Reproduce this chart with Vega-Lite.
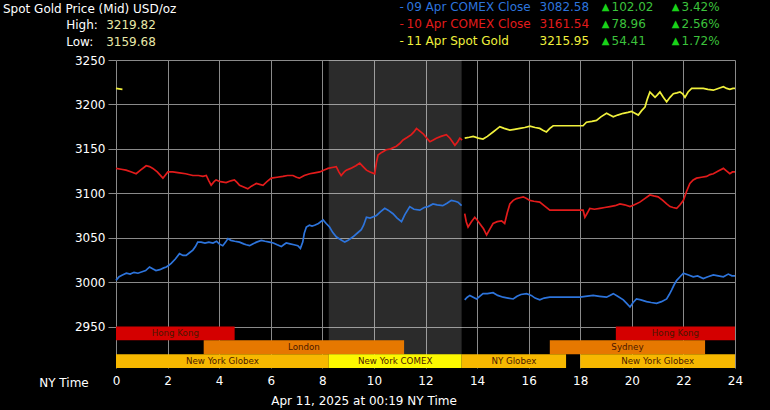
{
"$schema":"https://vega.github.io/schema/vega-lite/v6.json",
"autosize":{"type":"none"},
"width":619,"height":308,
"padding":{"left":116,"top":60,"right":35,"bottom":42},
"background":"#000000",
"config":{"view":{"stroke":null},"font":"DejaVu Sans","text":{"font":"DejaVu Sans"},
 "axisX":{"grid":true,"gridColor":"#8a8a8a","gridWidth":1,"domain":false,"ticks":false,"labelPadding":7,"labelFlush":false,"labelColor":"#ffffff","labelFontSize":12,"labelFont":"DejaVu Sans","titleX":247.5,"titleY":32,"titleAlign":"center","titleBaseline":"middle","titleColor":"#ffffff","titleFontSize":12,"titleFontWeight":"normal","titleFont":"DejaVu Sans"}},
"title":{"text":"Spot Gold Price (Mid) USD/oz","anchor":"start","frame":"group","color":"#ffffff","fontSize":12,"fontWeight":"normal","font":"DejaVu Sans","dx":-113,"offset":0,"baseline":"bottom","dy":27},
"datasets":{
"prices":[
{"series":"09 Apr COMEX Close","segment":"before","hour":0.00,"price":3002},{"series":"09 Apr COMEX Close","segment":"before","hour":0.12,"price":3006},{"series":"09 Apr COMEX Close","segment":"before","hour":0.25,"price":3008},{"series":"09 Apr COMEX Close","segment":"before","hour":0.40,"price":3010},{"series":"09 Apr COMEX Close","segment":"before","hour":0.55,"price":3009},{"series":"09 Apr COMEX Close","segment":"before","hour":0.70,"price":3011},{"series":"09 Apr COMEX Close","segment":"before","hour":0.85,"price":3010},{"series":"09 Apr COMEX Close","segment":"before","hour":1.04,"price":3012},{"series":"09 Apr COMEX Close","segment":"before","hour":1.15,"price":3013},{"series":"09 Apr COMEX Close","segment":"before","hour":1.30,"price":3017},{"series":"09 Apr COMEX Close","segment":"before","hour":1.42,"price":3015},{"series":"09 Apr COMEX Close","segment":"before","hour":1.55,"price":3013},{"series":"09 Apr COMEX Close","segment":"before","hour":1.70,"price":3014},{"series":"09 Apr COMEX Close","segment":"before","hour":1.85,"price":3016},{"series":"09 Apr COMEX Close","segment":"before","hour":1.95,"price":3017},{"series":"09 Apr COMEX Close","segment":"before","hour":2.05,"price":3019},{"series":"09 Apr COMEX Close","segment":"before","hour":2.14,"price":3021},{"series":"09 Apr COMEX Close","segment":"before","hour":2.30,"price":3026},{"series":"09 Apr COMEX Close","segment":"before","hour":2.46,"price":3032},{"series":"09 Apr COMEX Close","segment":"before","hour":2.60,"price":3030},{"series":"09 Apr COMEX Close","segment":"before","hour":2.72,"price":3030},{"series":"09 Apr COMEX Close","segment":"before","hour":2.85,"price":3033},{"series":"09 Apr COMEX Close","segment":"before","hour":2.98,"price":3036},{"series":"09 Apr COMEX Close","segment":"before","hour":3.08,"price":3040},{"series":"09 Apr COMEX Close","segment":"before","hour":3.17,"price":3045},{"series":"09 Apr COMEX Close","segment":"before","hour":3.30,"price":3045},{"series":"09 Apr COMEX Close","segment":"before","hour":3.45,"price":3044},{"series":"09 Apr COMEX Close","segment":"before","hour":3.60,"price":3045},{"series":"09 Apr COMEX Close","segment":"before","hour":3.76,"price":3044},{"series":"09 Apr COMEX Close","segment":"before","hour":3.90,"price":3046},{"series":"09 Apr COMEX Close","segment":"before","hour":4.00,"price":3043},{"series":"09 Apr COMEX Close","segment":"before","hour":4.14,"price":3041},{"series":"09 Apr COMEX Close","segment":"before","hour":4.25,"price":3045},{"series":"09 Apr COMEX Close","segment":"before","hour":4.34,"price":3049},{"series":"09 Apr COMEX Close","segment":"before","hour":4.45,"price":3047},{"series":"09 Apr COMEX Close","segment":"before","hour":4.60,"price":3046},{"series":"09 Apr COMEX Close","segment":"before","hour":4.79,"price":3045},{"series":"09 Apr COMEX Close","segment":"before","hour":4.95,"price":3043},{"series":"09 Apr COMEX Close","segment":"before","hour":5.05,"price":3042},{"series":"09 Apr COMEX Close","segment":"before","hour":5.18,"price":3041},{"series":"09 Apr COMEX Close","segment":"before","hour":5.30,"price":3043},{"series":"09 Apr COMEX Close","segment":"before","hour":5.45,"price":3045},{"series":"09 Apr COMEX Close","segment":"before","hour":5.63,"price":3047},{"series":"09 Apr COMEX Close","segment":"before","hour":5.78,"price":3046},{"series":"09 Apr COMEX Close","segment":"before","hour":5.95,"price":3045},{"series":"09 Apr COMEX Close","segment":"before","hour":6.10,"price":3044},{"series":"09 Apr COMEX Close","segment":"before","hour":6.25,"price":3042},{"series":"09 Apr COMEX Close","segment":"before","hour":6.41,"price":3040},{"series":"09 Apr COMEX Close","segment":"before","hour":6.50,"price":3042},{"series":"09 Apr COMEX Close","segment":"before","hour":6.60,"price":3044},{"series":"09 Apr COMEX Close","segment":"before","hour":6.75,"price":3043},{"series":"09 Apr COMEX Close","segment":"before","hour":6.90,"price":3042},{"series":"09 Apr COMEX Close","segment":"before","hour":7.05,"price":3041},{"series":"09 Apr COMEX Close","segment":"before","hour":7.15,"price":3038},{"series":"09 Apr COMEX Close","segment":"before","hour":7.24,"price":3045},{"series":"09 Apr COMEX Close","segment":"before","hour":7.30,"price":3055},{"series":"09 Apr COMEX Close","segment":"before","hour":7.38,"price":3062},{"series":"09 Apr COMEX Close","segment":"before","hour":7.50,"price":3064},{"series":"09 Apr COMEX Close","segment":"before","hour":7.60,"price":3063},{"series":"09 Apr COMEX Close","segment":"before","hour":7.70,"price":3064},{"series":"09 Apr COMEX Close","segment":"before","hour":7.85,"price":3066},{"series":"09 Apr COMEX Close","segment":"before","hour":8.03,"price":3070},{"series":"09 Apr COMEX Close","segment":"before","hour":8.15,"price":3066},{"series":"09 Apr COMEX Close","segment":"before","hour":8.28,"price":3062},{"series":"09 Apr COMEX Close","segment":"before","hour":8.40,"price":3056},{"series":"09 Apr COMEX Close","segment":"before","hour":8.54,"price":3051},{"series":"09 Apr COMEX Close","segment":"before","hour":8.70,"price":3048},{"series":"09 Apr COMEX Close","segment":"before","hour":8.87,"price":3045},{"series":"09 Apr COMEX Close","segment":"before","hour":9.00,"price":3047},{"series":"09 Apr COMEX Close","segment":"before","hour":9.19,"price":3051},{"series":"09 Apr COMEX Close","segment":"before","hour":9.35,"price":3055},{"series":"09 Apr COMEX Close","segment":"before","hour":9.51,"price":3059},{"series":"09 Apr COMEX Close","segment":"before","hour":9.60,"price":3064},{"series":"09 Apr COMEX Close","segment":"before","hour":9.71,"price":3073},{"series":"09 Apr COMEX Close","segment":"before","hour":9.85,"price":3072},{"series":"09 Apr COMEX Close","segment":"before","hour":10.10,"price":3075},{"series":"09 Apr COMEX Close","segment":"before","hour":10.25,"price":3079},{"series":"09 Apr COMEX Close","segment":"before","hour":10.42,"price":3083},{"series":"09 Apr COMEX Close","segment":"before","hour":10.55,"price":3081},{"series":"09 Apr COMEX Close","segment":"before","hour":10.74,"price":3077},{"series":"09 Apr COMEX Close","segment":"before","hour":10.90,"price":3072},{"series":"09 Apr COMEX Close","segment":"before","hour":11.07,"price":3068},{"series":"09 Apr COMEX Close","segment":"before","hour":11.20,"price":3076},{"series":"09 Apr COMEX Close","segment":"before","hour":11.39,"price":3085},{"series":"09 Apr COMEX Close","segment":"before","hour":11.55,"price":3082},{"series":"09 Apr COMEX Close","segment":"before","hour":11.78,"price":3081},{"series":"09 Apr COMEX Close","segment":"before","hour":11.95,"price":3084},{"series":"09 Apr COMEX Close","segment":"before","hour":12.10,"price":3085},{"series":"09 Apr COMEX Close","segment":"before","hour":12.29,"price":3088},{"series":"09 Apr COMEX Close","segment":"before","hour":12.45,"price":3087},{"series":"09 Apr COMEX Close","segment":"before","hour":12.67,"price":3086},{"series":"09 Apr COMEX Close","segment":"before","hour":12.85,"price":3089},{"series":"09 Apr COMEX Close","segment":"before","hour":13.00,"price":3092},{"series":"09 Apr COMEX Close","segment":"before","hour":13.15,"price":3091},{"series":"09 Apr COMEX Close","segment":"before","hour":13.26,"price":3090},{"series":"09 Apr COMEX Close","segment":"before","hour":13.40,"price":3086},
{"series":"09 Apr COMEX Close","segment":"after","hour":13.52,"price":2980},{"series":"09 Apr COMEX Close","segment":"after","hour":13.62,"price":2983},{"series":"09 Apr COMEX Close","segment":"after","hour":13.72,"price":2985},{"series":"09 Apr COMEX Close","segment":"after","hour":13.85,"price":2983},{"series":"09 Apr COMEX Close","segment":"after","hour":13.98,"price":2981},{"series":"09 Apr COMEX Close","segment":"after","hour":14.10,"price":2984},{"series":"09 Apr COMEX Close","segment":"after","hour":14.23,"price":2987},{"series":"09 Apr COMEX Close","segment":"after","hour":14.40,"price":2987},{"series":"09 Apr COMEX Close","segment":"after","hour":14.62,"price":2988},{"series":"09 Apr COMEX Close","segment":"after","hour":14.80,"price":2985},{"series":"09 Apr COMEX Close","segment":"after","hour":15.01,"price":2983},{"series":"09 Apr COMEX Close","segment":"after","hour":15.20,"price":2982},{"series":"09 Apr COMEX Close","segment":"after","hour":15.40,"price":2981},{"series":"09 Apr COMEX Close","segment":"after","hour":15.55,"price":2984},{"series":"09 Apr COMEX Close","segment":"after","hour":15.70,"price":2986},{"series":"09 Apr COMEX Close","segment":"after","hour":15.92,"price":2987},{"series":"09 Apr COMEX Close","segment":"after","hour":16.10,"price":2985},{"series":"09 Apr COMEX Close","segment":"after","hour":16.25,"price":2982},{"series":"09 Apr COMEX Close","segment":"after","hour":16.43,"price":2980},{"series":"09 Apr COMEX Close","segment":"after","hour":16.60,"price":2982},{"series":"09 Apr COMEX Close","segment":"after","hour":16.82,"price":2983},{"series":"09 Apr COMEX Close","segment":"after","hour":17.20,"price":2983},{"series":"09 Apr COMEX Close","segment":"after","hour":17.60,"price":2983},{"series":"09 Apr COMEX Close","segment":"after","hour":17.99,"price":2983},{"series":"09 Apr COMEX Close","segment":"after","hour":18.20,"price":2984},{"series":"09 Apr COMEX Close","segment":"after","hour":18.50,"price":2985},{"series":"09 Apr COMEX Close","segment":"after","hour":18.75,"price":2984},{"series":"09 Apr COMEX Close","segment":"after","hour":19.02,"price":2983},{"series":"09 Apr COMEX Close","segment":"after","hour":19.15,"price":2985},{"series":"09 Apr COMEX Close","segment":"after","hour":19.28,"price":2987},{"series":"09 Apr COMEX Close","segment":"after","hour":19.45,"price":2984},{"series":"09 Apr COMEX Close","segment":"after","hour":19.67,"price":2980},{"series":"09 Apr COMEX Close","segment":"after","hour":19.80,"price":2976},{"series":"09 Apr COMEX Close","segment":"after","hour":19.93,"price":2972},{"series":"09 Apr COMEX Close","segment":"after","hour":20.05,"price":2977},{"series":"09 Apr COMEX Close","segment":"after","hour":20.18,"price":2981},{"series":"09 Apr COMEX Close","segment":"after","hour":20.35,"price":2980},{"series":"09 Apr COMEX Close","segment":"after","hour":20.57,"price":2978},{"series":"09 Apr COMEX Close","segment":"after","hour":20.75,"price":2977},{"series":"09 Apr COMEX Close","segment":"after","hour":20.96,"price":2976},{"series":"09 Apr COMEX Close","segment":"after","hour":21.15,"price":2978},{"series":"09 Apr COMEX Close","segment":"after","hour":21.35,"price":2981},{"series":"09 Apr COMEX Close","segment":"after","hour":21.45,"price":2986},{"series":"09 Apr COMEX Close","segment":"after","hour":21.54,"price":2991},{"series":"09 Apr COMEX Close","segment":"after","hour":21.64,"price":2997},{"series":"09 Apr COMEX Close","segment":"after","hour":21.74,"price":3002},{"series":"09 Apr COMEX Close","segment":"after","hour":21.87,"price":3006},{"series":"09 Apr COMEX Close","segment":"after","hour":22.00,"price":3010},{"series":"09 Apr COMEX Close","segment":"after","hour":22.20,"price":3008},{"series":"09 Apr COMEX Close","segment":"after","hour":22.38,"price":3006},{"series":"09 Apr COMEX Close","segment":"after","hour":22.55,"price":3007},{"series":"09 Apr COMEX Close","segment":"after","hour":22.77,"price":3004},{"series":"09 Apr COMEX Close","segment":"after","hour":22.95,"price":3006},{"series":"09 Apr COMEX Close","segment":"after","hour":23.16,"price":3008},{"series":"09 Apr COMEX Close","segment":"after","hour":23.35,"price":3007},{"series":"09 Apr COMEX Close","segment":"after","hour":23.55,"price":3006},{"series":"09 Apr COMEX Close","segment":"after","hour":23.74,"price":3009},{"series":"09 Apr COMEX Close","segment":"after","hour":23.88,"price":3007},{"series":"09 Apr COMEX Close","segment":"after","hour":24.00,"price":3007},
{"series":"10 Apr COMEX Close","segment":"before","hour":0.00,"price":3128},{"series":"10 Apr COMEX Close","segment":"before","hour":0.20,"price":3127},{"series":"10 Apr COMEX Close","segment":"before","hour":0.39,"price":3126},{"series":"10 Apr COMEX Close","segment":"before","hour":0.60,"price":3124},{"series":"10 Apr COMEX Close","segment":"before","hour":0.78,"price":3122},{"series":"10 Apr COMEX Close","segment":"before","hour":0.95,"price":3126},{"series":"10 Apr COMEX Close","segment":"before","hour":1.17,"price":3131},{"series":"10 Apr COMEX Close","segment":"before","hour":1.30,"price":3130},{"series":"10 Apr COMEX Close","segment":"before","hour":1.43,"price":3128},{"series":"10 Apr COMEX Close","segment":"before","hour":1.60,"price":3124},{"series":"10 Apr COMEX Close","segment":"before","hour":1.82,"price":3117},{"series":"10 Apr COMEX Close","segment":"before","hour":2.01,"price":3124},{"series":"10 Apr COMEX Close","segment":"before","hour":2.20,"price":3124},{"series":"10 Apr COMEX Close","segment":"before","hour":2.46,"price":3123},{"series":"10 Apr COMEX Close","segment":"before","hour":2.70,"price":3122},{"series":"10 Apr COMEX Close","segment":"before","hour":2.98,"price":3120},{"series":"10 Apr COMEX Close","segment":"before","hour":3.20,"price":3120},{"series":"10 Apr COMEX Close","segment":"before","hour":3.37,"price":3119},{"series":"10 Apr COMEX Close","segment":"before","hour":3.50,"price":3120},{"series":"10 Apr COMEX Close","segment":"before","hour":3.60,"price":3114},{"series":"10 Apr COMEX Close","segment":"before","hour":3.69,"price":3109},{"series":"10 Apr COMEX Close","segment":"before","hour":3.80,"price":3113},{"series":"10 Apr COMEX Close","segment":"before","hour":3.88,"price":3115},{"series":"10 Apr COMEX Close","segment":"before","hour":4.05,"price":3113},{"series":"10 Apr COMEX Close","segment":"before","hour":4.27,"price":3112},{"series":"10 Apr COMEX Close","segment":"before","hour":4.45,"price":3114},{"series":"10 Apr COMEX Close","segment":"before","hour":4.59,"price":3115},{"series":"10 Apr COMEX Close","segment":"before","hour":4.70,"price":3112},{"series":"10 Apr COMEX Close","segment":"before","hour":4.79,"price":3109},{"series":"10 Apr COMEX Close","segment":"before","hour":4.95,"price":3107},{"series":"10 Apr COMEX Close","segment":"before","hour":5.11,"price":3105},{"series":"10 Apr COMEX Close","segment":"before","hour":5.25,"price":3108},{"series":"10 Apr COMEX Close","segment":"before","hour":5.44,"price":3111},{"series":"10 Apr COMEX Close","segment":"before","hour":5.57,"price":3110},{"series":"10 Apr COMEX Close","segment":"before","hour":5.70,"price":3109},{"series":"10 Apr COMEX Close","segment":"before","hour":5.85,"price":3113},{"series":"10 Apr COMEX Close","segment":"before","hour":6.02,"price":3117},{"series":"10 Apr COMEX Close","segment":"before","hour":6.25,"price":3118},{"series":"10 Apr COMEX Close","segment":"before","hour":6.47,"price":3119},{"series":"10 Apr COMEX Close","segment":"before","hour":6.65,"price":3120},{"series":"10 Apr COMEX Close","segment":"before","hour":6.86,"price":3120},{"series":"10 Apr COMEX Close","segment":"before","hour":7.00,"price":3118},{"series":"10 Apr COMEX Close","segment":"before","hour":7.11,"price":3117},{"series":"10 Apr COMEX Close","segment":"before","hour":7.30,"price":3120},{"series":"10 Apr COMEX Close","segment":"before","hour":7.51,"price":3122},{"series":"10 Apr COMEX Close","segment":"before","hour":7.70,"price":3123},{"series":"10 Apr COMEX Close","segment":"before","hour":7.90,"price":3124},{"series":"10 Apr COMEX Close","segment":"before","hour":8.05,"price":3126},{"series":"10 Apr COMEX Close","segment":"before","hour":8.22,"price":3128},{"series":"10 Apr COMEX Close","segment":"before","hour":8.38,"price":3129},{"series":"10 Apr COMEX Close","segment":"before","hour":8.54,"price":3130},{"series":"10 Apr COMEX Close","segment":"before","hour":8.64,"price":3124},{"series":"10 Apr COMEX Close","segment":"before","hour":8.73,"price":3120},{"series":"10 Apr COMEX Close","segment":"before","hour":8.85,"price":3124},{"series":"10 Apr COMEX Close","segment":"before","hour":8.93,"price":3126},{"series":"10 Apr COMEX Close","segment":"before","hour":9.10,"price":3128},{"series":"10 Apr COMEX Close","segment":"before","hour":9.30,"price":3131},{"series":"10 Apr COMEX Close","segment":"before","hour":9.45,"price":3134},{"series":"10 Apr COMEX Close","segment":"before","hour":9.58,"price":3130},{"series":"10 Apr COMEX Close","segment":"before","hour":9.71,"price":3126},{"series":"10 Apr COMEX Close","segment":"before","hour":9.85,"price":3124},{"series":"10 Apr COMEX Close","segment":"before","hour":10.03,"price":3122},{"series":"10 Apr COMEX Close","segment":"before","hour":10.10,"price":3135},{"series":"10 Apr COMEX Close","segment":"before","hour":10.16,"price":3143},{"series":"10 Apr COMEX Close","segment":"before","hour":10.30,"price":3146},{"series":"10 Apr COMEX Close","segment":"before","hour":10.48,"price":3149},{"series":"10 Apr COMEX Close","segment":"before","hour":10.65,"price":3150},{"series":"10 Apr COMEX Close","segment":"before","hour":10.87,"price":3153},{"series":"10 Apr COMEX Close","segment":"before","hour":11.00,"price":3156},{"series":"10 Apr COMEX Close","segment":"before","hour":11.13,"price":3160},{"series":"10 Apr COMEX Close","segment":"before","hour":11.30,"price":3163},{"series":"10 Apr COMEX Close","segment":"before","hour":11.45,"price":3166},{"series":"10 Apr COMEX Close","segment":"before","hour":11.55,"price":3169},{"series":"10 Apr COMEX Close","segment":"before","hour":11.65,"price":3173},{"series":"10 Apr COMEX Close","segment":"before","hour":11.78,"price":3170},{"series":"10 Apr COMEX Close","segment":"before","hour":11.91,"price":3167},{"series":"10 Apr COMEX Close","segment":"before","hour":12.05,"price":3162},{"series":"10 Apr COMEX Close","segment":"before","hour":12.17,"price":3158},{"series":"10 Apr COMEX Close","segment":"before","hour":12.30,"price":3160},{"series":"10 Apr COMEX Close","segment":"before","hour":12.42,"price":3162},{"series":"10 Apr COMEX Close","segment":"before","hour":12.60,"price":3164},{"series":"10 Apr COMEX Close","segment":"before","hour":12.81,"price":3166},{"series":"10 Apr COMEX Close","segment":"before","hour":12.95,"price":3162},{"series":"10 Apr COMEX Close","segment":"before","hour":13.14,"price":3154},{"series":"10 Apr COMEX Close","segment":"before","hour":13.25,"price":3158},{"series":"10 Apr COMEX Close","segment":"before","hour":13.33,"price":3162},{"series":"10 Apr COMEX Close","segment":"before","hour":13.42,"price":3160},
{"series":"10 Apr COMEX Close","segment":"after","hour":13.52,"price":3077},{"series":"10 Apr COMEX Close","segment":"after","hour":13.58,"price":3068},{"series":"10 Apr COMEX Close","segment":"after","hour":13.65,"price":3062},{"series":"10 Apr COMEX Close","segment":"after","hour":13.78,"price":3068},{"series":"10 Apr COMEX Close","segment":"after","hour":13.91,"price":3073},{"series":"10 Apr COMEX Close","segment":"after","hour":14.00,"price":3070},{"series":"10 Apr COMEX Close","segment":"after","hour":14.10,"price":3066},{"series":"10 Apr COMEX Close","segment":"after","hour":14.25,"price":3060},{"series":"10 Apr COMEX Close","segment":"after","hour":14.37,"price":3053},{"series":"10 Apr COMEX Close","segment":"after","hour":14.50,"price":3060},{"series":"10 Apr COMEX Close","segment":"after","hour":14.62,"price":3066},{"series":"10 Apr COMEX Close","segment":"after","hour":14.78,"price":3068},{"series":"10 Apr COMEX Close","segment":"after","hour":14.95,"price":3069},{"series":"10 Apr COMEX Close","segment":"after","hour":15.07,"price":3066},{"series":"10 Apr COMEX Close","segment":"after","hour":15.17,"price":3078},{"series":"10 Apr COMEX Close","segment":"after","hour":15.27,"price":3088},{"series":"10 Apr COMEX Close","segment":"after","hour":15.40,"price":3092},{"series":"10 Apr COMEX Close","segment":"after","hour":15.53,"price":3094},{"series":"10 Apr COMEX Close","segment":"after","hour":15.66,"price":3095},{"series":"10 Apr COMEX Close","segment":"after","hour":15.79,"price":3096},{"series":"10 Apr COMEX Close","segment":"after","hour":15.92,"price":3094},{"series":"10 Apr COMEX Close","segment":"after","hour":16.04,"price":3092},{"series":"10 Apr COMEX Close","segment":"after","hour":16.20,"price":3091},{"series":"10 Apr COMEX Close","segment":"after","hour":16.43,"price":3090},{"series":"10 Apr COMEX Close","segment":"after","hour":16.60,"price":3086},{"series":"10 Apr COMEX Close","segment":"after","hour":16.82,"price":3081},{"series":"10 Apr COMEX Close","segment":"after","hour":17.20,"price":3081},{"series":"10 Apr COMEX Close","segment":"after","hour":17.60,"price":3081},{"series":"10 Apr COMEX Close","segment":"after","hour":18.00,"price":3081},{"series":"10 Apr COMEX Close","segment":"after","hour":18.11,"price":3081},{"series":"10 Apr COMEX Close","segment":"after","hour":18.18,"price":3073},{"series":"10 Apr COMEX Close","segment":"after","hour":18.28,"price":3078},{"series":"10 Apr COMEX Close","segment":"after","hour":18.37,"price":3083},{"series":"10 Apr COMEX Close","segment":"after","hour":18.55,"price":3082},{"series":"10 Apr COMEX Close","segment":"after","hour":18.76,"price":3083},{"series":"10 Apr COMEX Close","segment":"after","hour":18.95,"price":3084},{"series":"10 Apr COMEX Close","segment":"after","hour":19.15,"price":3085},{"series":"10 Apr COMEX Close","segment":"after","hour":19.35,"price":3086},{"series":"10 Apr COMEX Close","segment":"after","hour":19.54,"price":3088},{"series":"10 Apr COMEX Close","segment":"after","hour":19.72,"price":3087},{"series":"10 Apr COMEX Close","segment":"after","hour":19.93,"price":3085},{"series":"10 Apr COMEX Close","segment":"after","hour":20.10,"price":3087},{"series":"10 Apr COMEX Close","segment":"after","hour":20.31,"price":3090},{"series":"10 Apr COMEX Close","segment":"after","hour":20.50,"price":3094},{"series":"10 Apr COMEX Close","segment":"after","hour":20.70,"price":3098},{"series":"10 Apr COMEX Close","segment":"after","hour":20.85,"price":3097},{"series":"10 Apr COMEX Close","segment":"after","hour":21.02,"price":3096},{"series":"10 Apr COMEX Close","segment":"after","hour":21.20,"price":3092},{"series":"10 Apr COMEX Close","segment":"after","hour":21.35,"price":3088},{"series":"10 Apr COMEX Close","segment":"after","hour":21.48,"price":3085},{"series":"10 Apr COMEX Close","segment":"after","hour":21.60,"price":3084},{"series":"10 Apr COMEX Close","segment":"after","hour":21.74,"price":3083},{"series":"10 Apr COMEX Close","segment":"after","hour":21.87,"price":3087},{"series":"10 Apr COMEX Close","segment":"after","hour":22.00,"price":3092},{"series":"10 Apr COMEX Close","segment":"after","hour":22.12,"price":3102},{"series":"10 Apr COMEX Close","segment":"after","hour":22.25,"price":3111},{"series":"10 Apr COMEX Close","segment":"after","hour":22.38,"price":3115},{"series":"10 Apr COMEX Close","segment":"after","hour":22.51,"price":3117},{"series":"10 Apr COMEX Close","segment":"after","hour":22.70,"price":3118},{"series":"10 Apr COMEX Close","segment":"after","hour":22.90,"price":3119},{"series":"10 Apr COMEX Close","segment":"after","hour":23.03,"price":3121},{"series":"10 Apr COMEX Close","segment":"after","hour":23.16,"price":3122},{"series":"10 Apr COMEX Close","segment":"after","hour":23.35,"price":3125},{"series":"10 Apr COMEX Close","segment":"after","hour":23.55,"price":3128},{"series":"10 Apr COMEX Close","segment":"after","hour":23.68,"price":3125},{"series":"10 Apr COMEX Close","segment":"after","hour":23.80,"price":3122},{"series":"10 Apr COMEX Close","segment":"after","hour":23.90,"price":3124},{"series":"10 Apr COMEX Close","segment":"after","hour":24.00,"price":3124},
{"series":"11 Apr Spot Gold","segment":"before","hour":0.00,"price":3218},{"series":"11 Apr Spot Gold","segment":"before","hour":0.12,"price":3217.5},{"series":"11 Apr Spot Gold","segment":"before","hour":0.25,"price":3217},
{"series":"11 Apr Spot Gold","segment":"after","hour":13.52,"price":3162},{"series":"11 Apr Spot Gold","segment":"after","hour":13.70,"price":3163},{"series":"11 Apr Spot Gold","segment":"after","hour":13.85,"price":3164},{"series":"11 Apr Spot Gold","segment":"after","hour":14.05,"price":3162},{"series":"11 Apr Spot Gold","segment":"after","hour":14.23,"price":3161},{"series":"11 Apr Spot Gold","segment":"after","hour":14.40,"price":3164},{"series":"11 Apr Spot Gold","segment":"after","hour":14.62,"price":3169},{"series":"11 Apr Spot Gold","segment":"after","hour":14.75,"price":3172},{"series":"11 Apr Spot Gold","segment":"after","hour":14.88,"price":3175},{"series":"11 Apr Spot Gold","segment":"after","hour":15.05,"price":3173},{"series":"11 Apr Spot Gold","segment":"after","hour":15.27,"price":3171},{"series":"11 Apr Spot Gold","segment":"after","hour":15.45,"price":3172},{"series":"11 Apr Spot Gold","segment":"after","hour":15.66,"price":3173},{"series":"11 Apr Spot Gold","segment":"after","hour":15.85,"price":3174},{"series":"11 Apr Spot Gold","segment":"after","hour":16.05,"price":3175.6},{"series":"11 Apr Spot Gold","segment":"after","hour":16.25,"price":3174},{"series":"11 Apr Spot Gold","segment":"after","hour":16.43,"price":3173},{"series":"11 Apr Spot Gold","segment":"after","hour":16.55,"price":3171},{"series":"11 Apr Spot Gold","segment":"after","hour":16.69,"price":3169},{"series":"11 Apr Spot Gold","segment":"after","hour":16.82,"price":3173},{"series":"11 Apr Spot Gold","segment":"after","hour":16.95,"price":3176},{"series":"11 Apr Spot Gold","segment":"after","hour":17.50,"price":3176},{"series":"11 Apr Spot Gold","segment":"after","hour":18.11,"price":3176},{"series":"11 Apr Spot Gold","segment":"after","hour":18.24,"price":3180},{"series":"11 Apr Spot Gold","segment":"after","hour":18.45,"price":3181},{"series":"11 Apr Spot Gold","segment":"after","hour":18.63,"price":3182},{"series":"11 Apr Spot Gold","segment":"after","hour":18.80,"price":3186},{"series":"11 Apr Spot Gold","segment":"after","hour":19.02,"price":3190},{"series":"11 Apr Spot Gold","segment":"after","hour":19.15,"price":3188},{"series":"11 Apr Spot Gold","segment":"after","hour":19.28,"price":3186},{"series":"11 Apr Spot Gold","segment":"after","hour":19.45,"price":3188},{"series":"11 Apr Spot Gold","segment":"after","hour":19.67,"price":3190},{"series":"11 Apr Spot Gold","segment":"after","hour":19.85,"price":3191},{"series":"11 Apr Spot Gold","segment":"after","hour":19.99,"price":3192},{"series":"11 Apr Spot Gold","segment":"after","hour":20.12,"price":3190},{"series":"11 Apr Spot Gold","segment":"after","hour":20.25,"price":3188},{"series":"11 Apr Spot Gold","segment":"after","hour":20.38,"price":3193},{"series":"11 Apr Spot Gold","segment":"after","hour":20.51,"price":3197},{"series":"11 Apr Spot Gold","segment":"after","hour":20.60,"price":3206},{"series":"11 Apr Spot Gold","segment":"after","hour":20.70,"price":3214},{"series":"11 Apr Spot Gold","segment":"after","hour":20.80,"price":3211},{"series":"11 Apr Spot Gold","segment":"after","hour":20.90,"price":3208},{"series":"11 Apr Spot Gold","segment":"after","hour":21.00,"price":3211},{"series":"11 Apr Spot Gold","segment":"after","hour":21.09,"price":3214},{"series":"11 Apr Spot Gold","segment":"after","hour":21.22,"price":3208},{"series":"11 Apr Spot Gold","segment":"after","hour":21.35,"price":3203},{"series":"11 Apr Spot Gold","segment":"after","hour":21.48,"price":3208},{"series":"11 Apr Spot Gold","segment":"after","hour":21.61,"price":3212},{"series":"11 Apr Spot Gold","segment":"after","hour":21.75,"price":3213},{"series":"11 Apr Spot Gold","segment":"after","hour":21.87,"price":3214},{"series":"11 Apr Spot Gold","segment":"after","hour":21.97,"price":3212},{"series":"11 Apr Spot Gold","segment":"after","hour":22.06,"price":3208},{"series":"11 Apr Spot Gold","segment":"after","hour":22.18,"price":3214},{"series":"11 Apr Spot Gold","segment":"after","hour":22.32,"price":3218},{"series":"11 Apr Spot Gold","segment":"after","hour":22.50,"price":3218},{"series":"11 Apr Spot Gold","segment":"after","hour":22.77,"price":3218},{"series":"11 Apr Spot Gold","segment":"after","hour":22.95,"price":3217},{"series":"11 Apr Spot Gold","segment":"after","hour":23.16,"price":3216},{"series":"11 Apr Spot Gold","segment":"after","hour":23.35,"price":3218},{"series":"11 Apr Spot Gold","segment":"after","hour":23.55,"price":3220},{"series":"11 Apr Spot Gold","segment":"after","hour":23.68,"price":3218},{"series":"11 Apr Spot Gold","segment":"after","hour":23.80,"price":3217},{"series":"11 Apr Spot Gold","segment":"after","hour":23.92,"price":3218},{"series":"11 Apr Spot Gold","segment":"after","hour":24.00,"price":3218}
],
"sessions":[
{"market":"Hong Kong","kind":"Hong Kong","lane":"1","start":0,"end":4.6},
{"market":"Hong Kong","kind":"Hong Kong","lane":"1","start":19.38,"end":24},
{"market":"London","kind":"London","lane":"2","start":3.4,"end":11.17},
{"market":"Sydney","kind":"Sydney","lane":"2","start":16.82,"end":22.84},
{"market":"New York Globex","kind":"Globex","lane":"3","start":0,"end":8.25},
{"market":"New York COMEX","kind":"COMEX","lane":"3","start":8.25,"end":13.4},
{"market":"NY Globex","kind":"Globex","lane":"3","start":13.4,"end":17.45},
{"market":"New York Globex","kind":"Globex","lane":"3","start":18.0,"end":24}
],
"quotes":[
{"series":"09 Apr COMEX Close","close":3082.58,"change":102.02,"pct":0.0342},
{"series":"10 Apr COMEX Close","close":3161.54,"change":78.96,"pct":0.0256},
{"series":"11 Apr Spot Gold","close":3215.95,"change":54.41,"pct":0.0172}
],
"extremes":[
{"label":"High:","value":3219.82},
{"label":"Low:","value":3159.68}
]
},
"layer":[
{
"layer":[
{"data":{"name":"sessions"},"transform":[{"filter":"datum.kind === 'COMEX'"}],
 "mark":{"type":"rect","color":"#ffffff","opacity":0.17},
 "encoding":{"x":{"field":"start","type":"quantitative","scale":{"domain":[0,24],"nice":false},"title":"Apr 11, 2025 at 00:19 NY Time","axis":{"values":[0,2,4,6,8,10,12,14,16,18,20,22,24]}},"x2":{"field":"end"}}},
{"data":{"name":"prices"},
 "mark":{"type":"line","strokeWidth":1.7,"interpolate":"linear"},
 "encoding":{
  "x":{"field":"hour","type":"quantitative","scale":{"domain":[0,24],"nice":false},"title":"Apr 11, 2025 at 00:19 NY Time","axis":{"values":[0,2,4,6,8,10,12,14,16,18,20,22,24]}},
  "y":{"field":"price","type":"quantitative","scale":{"domain":[2903.3,3250],"nice":false,"zero":false},
   "axis":{"values":[2950,3000,3050,3100,3150,3200,3250],"format":"d","grid":true,"gridColor":"#8a8a8a","gridWidth":1,"domain":false,"ticks":true,"tickColor":"#8a8a8a","tickSize":8,"labelPadding":3,"labelColor":"#ffffff","labelFontSize":12,"labelFont":"DejaVu Sans",
   "title":"NY Time","titleAngle":0,"titleX":-52.5,"titleY":322,"titleAlign":"center","titleBaseline":"middle","titleColor":"#ffffff","titleFontSize":12,"titleFontWeight":"normal","titleFont":"DejaVu Sans"}},
  "color":{"field":"series","type":"nominal","scale":{"domain":["09 Apr COMEX Close","10 Apr COMEX Close","11 Apr Spot Gold","Hong Kong","London","Sydney","Globex","COMEX"],"range":["#2d74dc","#e21b1b","#f0f03c","#d40000","#e67800","#e67800","#f7b800","#fcf800"]},"legend":null},
  "detail":{"field":"segment"}}},
{"data":{"name":"sessions"},
 "encoding":{"y":{"field":"lane","type":"ordinal","scale":{"type":"band","domain":["1","2","3"],"range":[266.5,308],"paddingInner":0,"paddingOuter":0},"axis":null}},
 "layer":[
  {"mark":{"type":"rect"},
   "encoding":{"x":{"field":"start","type":"quantitative","scale":{"domain":[0,24],"nice":false},"title":"Apr 11, 2025 at 00:19 NY Time","axis":{"values":[0,2,4,6,8,10,12,14,16,18,20,22,24]}},"x2":{"field":"end"},
    "color":{"field":"kind","type":"nominal","scale":{"domain":["09 Apr COMEX Close","10 Apr COMEX Close","11 Apr Spot Gold","Hong Kong","London","Sydney","Globex","COMEX"],"range":["#2d74dc","#e21b1b","#f0f03c","#d40000","#e67800","#e67800","#f7b800","#fcf800"]},"legend":null}}},
  {"transform":[{"fold":["start","end"],"as":["edge","time"]}],
   "mark":{"type":"text","fontSize":8.7,"font":"DejaVu Sans","color":"#4a1800","baseline":"middle","align":"center"},
   "encoding":{"x":{"aggregate":"mean","field":"time","type":"quantitative","scale":{"domain":[0,24],"nice":false},"title":"Apr 11, 2025 at 00:19 NY Time","axis":{"values":[0,2,4,6,8,10,12,14,16,18,20,22,24]}},
    "text":{"field":"market"},"detail":{"field":"start"}}}
 ]}
],
"resolve":{"scale":{"y":"independent"}}
},
{"data":{"name":"quotes"},
 "encoding":{"y":{"field":"series","type":"nominal","scale":{"type":"point","domain":["09 Apr COMEX Close","10 Apr COMEX Close","11 Apr Spot Gold"],"range":[-53.3,-19],"padding":0},"axis":null}},
 "layer":[
  {"mark":{"type":"text","align":"left","baseline":"middle","fontSize":12,"font":"DejaVu Sans"},
   "encoding":{"x":{"datum":"name","type":"nominal","scale":{"type":"point","domain":["name","gap","close","change","pct"],"range":[283.5,563.5],"padding":0},"axis":null},"text":{"value":"-"},
    "color":{"field":"series","type":"nominal","scale":{"domain":["09 Apr COMEX Close","10 Apr COMEX Close","11 Apr Spot Gold","Hong Kong","London","Sydney","Globex","COMEX"],"range":["#2d74dc","#e21b1b","#f0f03c","#d40000","#e67800","#e67800","#f7b800","#fcf800"]},"legend":null}}},
  {"mark":{"type":"text","align":"left","baseline":"middle","fontSize":12,"font":"DejaVu Sans","dx":7},
   "encoding":{"x":{"datum":"name","type":"nominal","scale":{"type":"point","domain":["name","gap","close","change","pct"],"range":[283.5,563.5],"padding":0},"axis":null},"text":{"field":"series"},
    "color":{"field":"series","type":"nominal","scale":{"domain":["09 Apr COMEX Close","10 Apr COMEX Close","11 Apr Spot Gold","Hong Kong","London","Sydney","Globex","COMEX"],"range":["#2d74dc","#e21b1b","#f0f03c","#d40000","#e67800","#e67800","#f7b800","#fcf800"]},"legend":null}}},
  {"mark":{"type":"text","align":"left","baseline":"middle","fontSize":12,"font":"DejaVu Sans"},
   "encoding":{"x":{"datum":"close","type":"nominal","scale":{"type":"point","domain":["name","gap","close","change","pct"],"range":[283.5,563.5],"padding":0},"axis":null},"text":{"field":"close","format":".2f"},
    "color":{"field":"series","type":"nominal","scale":{"domain":["09 Apr COMEX Close","10 Apr COMEX Close","11 Apr Spot Gold","Hong Kong","London","Sydney","Globex","COMEX"],"range":["#2d74dc","#e21b1b","#f0f03c","#d40000","#e67800","#e67800","#f7b800","#fcf800"]},"legend":null}}},
  {"mark":{"type":"text","align":"right","baseline":"middle","fontSize":10,"font":"DejaVu Sans","color":"#19d219"},
   "encoding":{"x":{"datum":"change","type":"nominal","scale":{"type":"point","domain":["name","gap","close","change","pct"],"range":[283.5,563.5],"padding":0},"axis":null},"text":{"value":"▲"}}},
  {"mark":{"type":"text","align":"left","baseline":"middle","fontSize":12,"font":"DejaVu Sans","color":"#3cc23c","dx":2},
   "encoding":{"x":{"datum":"change","type":"nominal","scale":{"type":"point","domain":["name","gap","close","change","pct"],"range":[283.5,563.5],"padding":0},"axis":null},"text":{"field":"change","format":".2f"}}},
  {"mark":{"type":"text","align":"right","baseline":"middle","fontSize":10,"font":"DejaVu Sans","color":"#19d219"},
   "encoding":{"x":{"datum":"pct","type":"nominal","scale":{"type":"point","domain":["name","gap","close","change","pct"],"range":[283.5,563.5],"padding":0},"axis":null},"text":{"value":"▲"}}},
  {"mark":{"type":"text","align":"left","baseline":"middle","fontSize":12,"font":"DejaVu Sans","color":"#3cc23c","dx":2},
   "encoding":{"x":{"datum":"pct","type":"nominal","scale":{"type":"point","domain":["name","gap","close","change","pct"],"range":[283.5,563.5],"padding":0},"axis":null},"text":{"field":"pct","format":".2%"}}}
 ]},
{"data":{"name":"extremes"},
 "encoding":{"y":{"field":"label","type":"nominal","scale":{"type":"point","domain":["High:","Low:"],"range":[-35,-18],"padding":0},"axis":null}},
 "layer":[
  {"mark":{"type":"text","align":"left","baseline":"middle","fontSize":12,"font":"DejaVu Sans","color":"#ffffff"},
   "encoding":{"x":{"datum":"label","type":"nominal","scale":{"type":"point","domain":["label","value"],"range":[-49.8,-9.8],"padding":0},"axis":null},"text":{"field":"label"}}},
  {"mark":{"type":"text","align":"left","baseline":"middle","fontSize":12,"font":"DejaVu Sans","color":"#e8e8a8"},
   "encoding":{"x":{"datum":"value","type":"nominal","scale":{"type":"point","domain":["label","value"],"range":[-49.8,-9.8],"padding":0},"axis":null},"text":{"field":"value","format":".2f"}}}
 ]}
],
"resolve":{"scale":{"x":"independent","y":"independent"}}
}
